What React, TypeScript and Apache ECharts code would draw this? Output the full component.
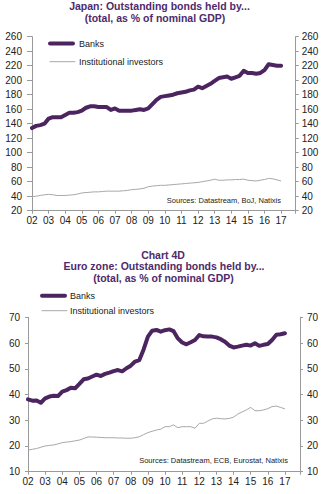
import React, { useEffect, useRef } from "react";
import * as echarts from "echarts";

const years = [2002, 2003, 2004, 2005, 2006, 2007, 2008, 2009, 2010, 2011, 2012, 2013, 2014, 2015, 2016, 2017];
const quarters = years.flatMap((y) => [y, y + 0.25, y + 0.5, y + 0.75]).slice(0, 61);

const jpBanks = [
  134, 137, 138, 140,
  147, 149, 149, 149,
  152, 155, 155, 156,
  158, 162, 164, 164,
  163, 163, 163, 159,
  161, 158, 158, 158,
  158, 159, 160, 159,
  161, 167, 173, 177,
  178, 179, 180, 182,
  183, 184, 186, 187,
  191, 189, 192, 195,
  199, 203, 204, 205,
  202, 204, 206, 213,
  210, 210, 209, 210,
  214, 222, 221, 220,
  220,
];
const jpInst = [
  39.5, 40, 41, 42,
  42.5, 42, 41, 41,
  41, 41.5, 42, 43,
  44.5, 45, 45.5, 46,
  46, 46.5, 47, 47,
  47, 47, 47.5, 48,
  49, 49.5, 50, 51,
  53, 54, 54.5, 55,
  55, 55.5, 56, 56.5,
  57, 57.5, 58, 58.5,
  59, 60, 61, 62,
  63.5, 62, 62, 62.5,
  62.5, 63, 63, 63.5,
  62, 61.5, 61, 62,
  63, 64.5, 64, 62.5,
  61,
];
const ezBanks = [
  38.1, 37.6, 37.7, 36.8,
  38.5, 39.2, 39.5, 39.4,
  41.1, 41.7, 42.6, 42.4,
  44.1, 45.9, 46.2, 47.0,
  47.7, 47.2, 48.0, 48.5,
  49.1, 49.5, 49.0, 50.2,
  51.2, 52.8, 53.4, 57.5,
  62.5, 64.8, 65.1, 64.4,
  65.0, 65.3, 64.6, 61.8,
  60.2, 59.5, 60.3, 61.2,
  63.1, 62.6, 62.5, 62.5,
  62.2, 61.5, 60.5, 59.0,
  58.3, 58.6, 59.0, 59.3,
  59.0, 59.9, 58.9, 59.3,
  59.6, 61.2, 63.2, 63.4,
  63.8,
];
const ezInst = [
  18.4, 18.7, 19.0, 19.5,
  20.0, 20.2, 20.4, 20.8,
  21.3, 21.5, 21.7, 22.0,
  22.3, 22.9, 23.5, 23.5,
  23.4, 23.3, 23.2, 23.2,
  23.2, 23.1, 23.1, 23.0,
  23.0, 23.2, 23.6, 24.4,
  25.2, 25.7, 26.2, 26.5,
  27.5, 27.5, 28.2, 27.1,
  27.5, 27.5, 27.5, 26.9,
  28.8, 28.8, 29.7, 30.5,
  30.8, 30.6, 30.5, 30.7,
  31.2, 32.4, 33.2, 34.0,
  35.0, 33.7, 33.7, 34.0,
  34.5, 35.3, 35.5, 35.0,
  34.4,
];

const seriesNames = ["Banks", "Institutional investors"];
const topTitle = ["Japan: Outstanding bonds held by...", "(total, as % of nominal GDP)"];
const bottomTitle = ["Chart 4D", "Euro zone: Outstanding bonds held by...", "(total, as % of nominal GDP)"];
const topSource = "Sources: Datastream, BoJ, Natixis";
const bottomSource = "Sources: Datastream, ECB, Eurostat, Natixis";

const FONT = "'Liberation Sans', Arial, sans-serif";
const PURPLE = "#4b2460";
const TITLE = "#4e2a6b";
const GREY = "#a8a8a8";
const AXIS = "#9a9a9a";
const LABEL = "#222";

const pair = (vals: number[]) => vals.map((v, i) => [quarters[i], v]);

function xAxis(gridIndex: number) {
  return {
    type: "value",
    gridIndex,
    min: 2002,
    max: 2017.88,
    interval: 1,
    splitLine: { show: false },
    axisLine: { show: true, onZero: false, lineStyle: { color: AXIS, width: 1 } },
    axisTick: { show: true, length: 3, lineStyle: { color: AXIS } },
    axisLabel: {
      color: LABEL,
      fontSize: 10,
      fontFamily: FONT,
      margin: 5,
      formatter: (v: number) => (Number.isInteger(v) ? String(v % 100).padStart(2, "0") : ""),
    },
  };
}

function yAxis(gridIndex: number, position: string, min: number, max: number, interval: number, margin: number, tick: number) {
  return {
    type: "value",
    gridIndex,
    position,
    min,
    max,
    interval,
    splitLine: { show: false },
    axisLine: { show: true, lineStyle: { color: AXIS, width: 1 } },
    axisTick: { show: true, length: tick, lineStyle: { color: AXIS } },
    axisLabel: { color: LABEL, fontSize: 10, fontFamily: FONT, margin },
  };
}

function text(t: string, x: number, y: number, size: number, bold: boolean, color: string, align: string) {
  return {
    type: "text",
    x,
    y,
    style: {
      text: t,
      font: `${bold ? "bold " : ""}${size}px ${FONT}`,
      fill: color,
      textAlign: align,
      textVerticalAlign: "middle",
    },
  };
}

function legendLine(x1: number, x2: number, y: number, color: string, width: number) {
  return {
    type: "line",
    shape: { x1, y1: y, x2, y2: y },
    style: { stroke: color, lineWidth: width, lineCap: "round" },
  };
}

export default function App() {
  const ref = useRef<HTMLDivElement>(null);
  useEffect(() => {
    if (!ref.current) return;
    const chart = echarts.init(ref.current, null, { renderer: "svg" });
    chart.setOption({
      animation: false,
      backgroundColor: "#fff",
      grid: [
        { left: 32, top: 36.7, width: 263.7, height: 174 },
        { left: 28, top: 317.3, width: 272, height: 154.4 },
      ],
      xAxis: [xAxis(0), xAxis(1)],
      yAxis: [
        yAxis(0, "left", 20, 260, 20, 10, 5),
        yAxis(0, "right", 20, 260, 20, 6, 3),
        yAxis(1, "left", 10, 70, 10, 8, 3),
        yAxis(1, "right", 10, 70, 10, 7, 3),
      ],
      series: [
        {
          name: seriesNames[1], type: "line", xAxisIndex: 0, yAxisIndex: 0, data: pair(jpInst),
          symbol: "none", lineStyle: { color: GREY, width: 1 }, itemStyle: { color: GREY },
        },
        {
          name: seriesNames[0], type: "line", xAxisIndex: 0, yAxisIndex: 0, data: pair(jpBanks),
          symbol: "none", lineStyle: { color: PURPLE, width: 4, cap: "round", join: "round" }, itemStyle: { color: PURPLE },
        },
        {
          name: seriesNames[1], type: "line", xAxisIndex: 1, yAxisIndex: 2, data: pair(ezInst),
          symbol: "none", lineStyle: { color: GREY, width: 1 }, itemStyle: { color: GREY },
        },
        {
          name: seriesNames[0], type: "line", xAxisIndex: 1, yAxisIndex: 2, data: pair(ezBanks),
          symbol: "none", lineStyle: { color: PURPLE, width: 4, cap: "round", join: "round" }, itemStyle: { color: PURPLE },
        },
      ],
      graphic: [
        text(topTitle[0], 159.5, 6, 10.5, true, TITLE, "center"),
        text(topTitle[1], 155, 17.5, 10.5, true, TITLE, "center"),
        text(bottomTitle[0], 163, 255, 10.5, true, TITLE, "center"),
        text(bottomTitle[1], 164, 266.3, 10.5, true, TITLE, "center"),
        text(bottomTitle[2], 163.5, 277.7, 10.5, true, TITLE, "center"),
        text(topSource, 281, 200, 7.5, false, "#222", "right"),
        text(bottomSource, 288, 460, 7.5, false, "#222", "right"),
        legendLine(50, 73, 43.5, PURPLE, 4),
        text(seriesNames[0], 79, 43.5, 9, false, "#222", "left"),
        legendLine(50, 75, 61.7, GREY, 1),
        text(seriesNames[1], 79, 61.7, 9, false, "#222", "left"),
        legendLine(42, 65, 295.7, PURPLE, 4),
        text(seriesNames[0], 70, 295.7, 9, false, "#222", "left"),
        legendLine(42, 67, 310.7, GREY, 1),
        text(seriesNames[1], 70, 310.7, 9, false, "#222", "left"),
      ],
    });
    return () => chart.dispose();
  }, []);
  return (
    <div
      ref={ref}
      style={{ position: "fixed", left: 0, top: 0, width: 325, height: 494, background: "#fff" }}
    />
  );
}
